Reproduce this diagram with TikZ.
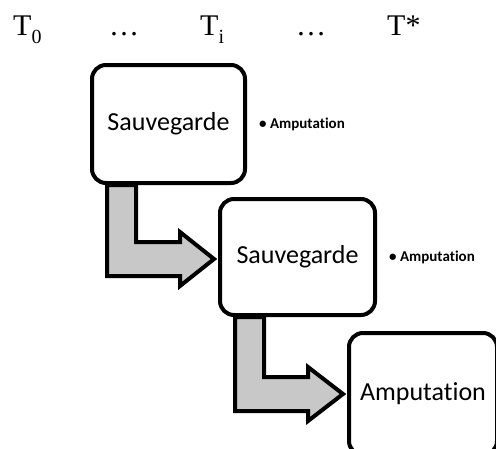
\documentclass[tikz,border=0pt]{standalone}
\usepackage{fontspec}
\setmainfont{Carlito}[RawFeature=-liga]
\newfontfamily\timefont{Liberation Serif}
\usetikzlibrary{positioning, calc, backgrounds}
\definecolor{shaft}{HTML}{C8C8C8}
\newcommand\tsub[1]{\raisebox{-8pt}{\fontsize{20}{22}\selectfont #1}}

\begin{document}
\begin{tikzpicture}[
  x=1pt, y=-1pt,
  box/.style={draw=black, fill=white, line width=4pt, rounded corners=14pt,
              inner sep=0pt, font=\fontsize{26}{30}\selectfont},
  note/.style={inner sep=0pt, anchor=west, font=\fontsize{15}{18}\selectfont\bfseries},
  stamp/.style={inner sep=0pt, anchor=base west, font=\timefont\fontsize{30}{34}\selectfont},
  elbow/.style={draw=black, fill=shaft, line width=4pt, line join=miter}
]
  \useasboundingbox (0,0) rectangle (496,448);
  \clip (0,0) rectangle (496,448);

  % time line
  \node[stamp] (t0) at (13,35) {T\tsub{0}};
  \node[stamp] (d1) at (109,35) {…};
  \node[stamp] (ti) at (200,35) {T\tsub{i}};
  \node[stamp] (d2) at (296,35) {…};
  \node[stamp] (tstar) at (387,35) {T*};

  % steps
  \node[box, minimum width=153pt, minimum height=118pt] (save1) at (168.5,124) {Sauvegarde};
  \node[box, minimum width=155pt, minimum height=116pt] (save2) at (297.5,257) {Sauvegarde};
  \node[box, minimum width=148pt, minimum height=122pt] (amp) at (423,394) {Amputation};

  \node[note, right=12pt of save1] (note1) {\textbullet\ Amputation};
  \node[note, right=12pt of save2] (note2) {\textbullet\ Amputation};

  % bent arrows, behind the boxes
  \coordinate (tip1) at ($(save2.west)+(-4,2)$);
  \coordinate (tip2) at ($(amp.west)+(-4,0)$);
  \begin{scope}[on background layer]
  \draw[elbow] ($(save1.south west)+(17,0)$) |- ($(tip1)+(-34,17)$) -- ++(0,10)
    -- (tip1) -- ++(-34,-27) -- ++(0,10) -| ($(save1.south west)+(46,0)$) -- cycle;
  \draw[elbow] ($(save2.south west)+(17,0)$) |- ($(tip2)+(-35,17)$) -- ++(0,10)
    -- (tip2) -- ++(-35,-27) -- ++(0,10) -| ($(save2.south west)+(46,0)$) -- cycle;
  \end{scope}
\end{tikzpicture}
\end{document}
